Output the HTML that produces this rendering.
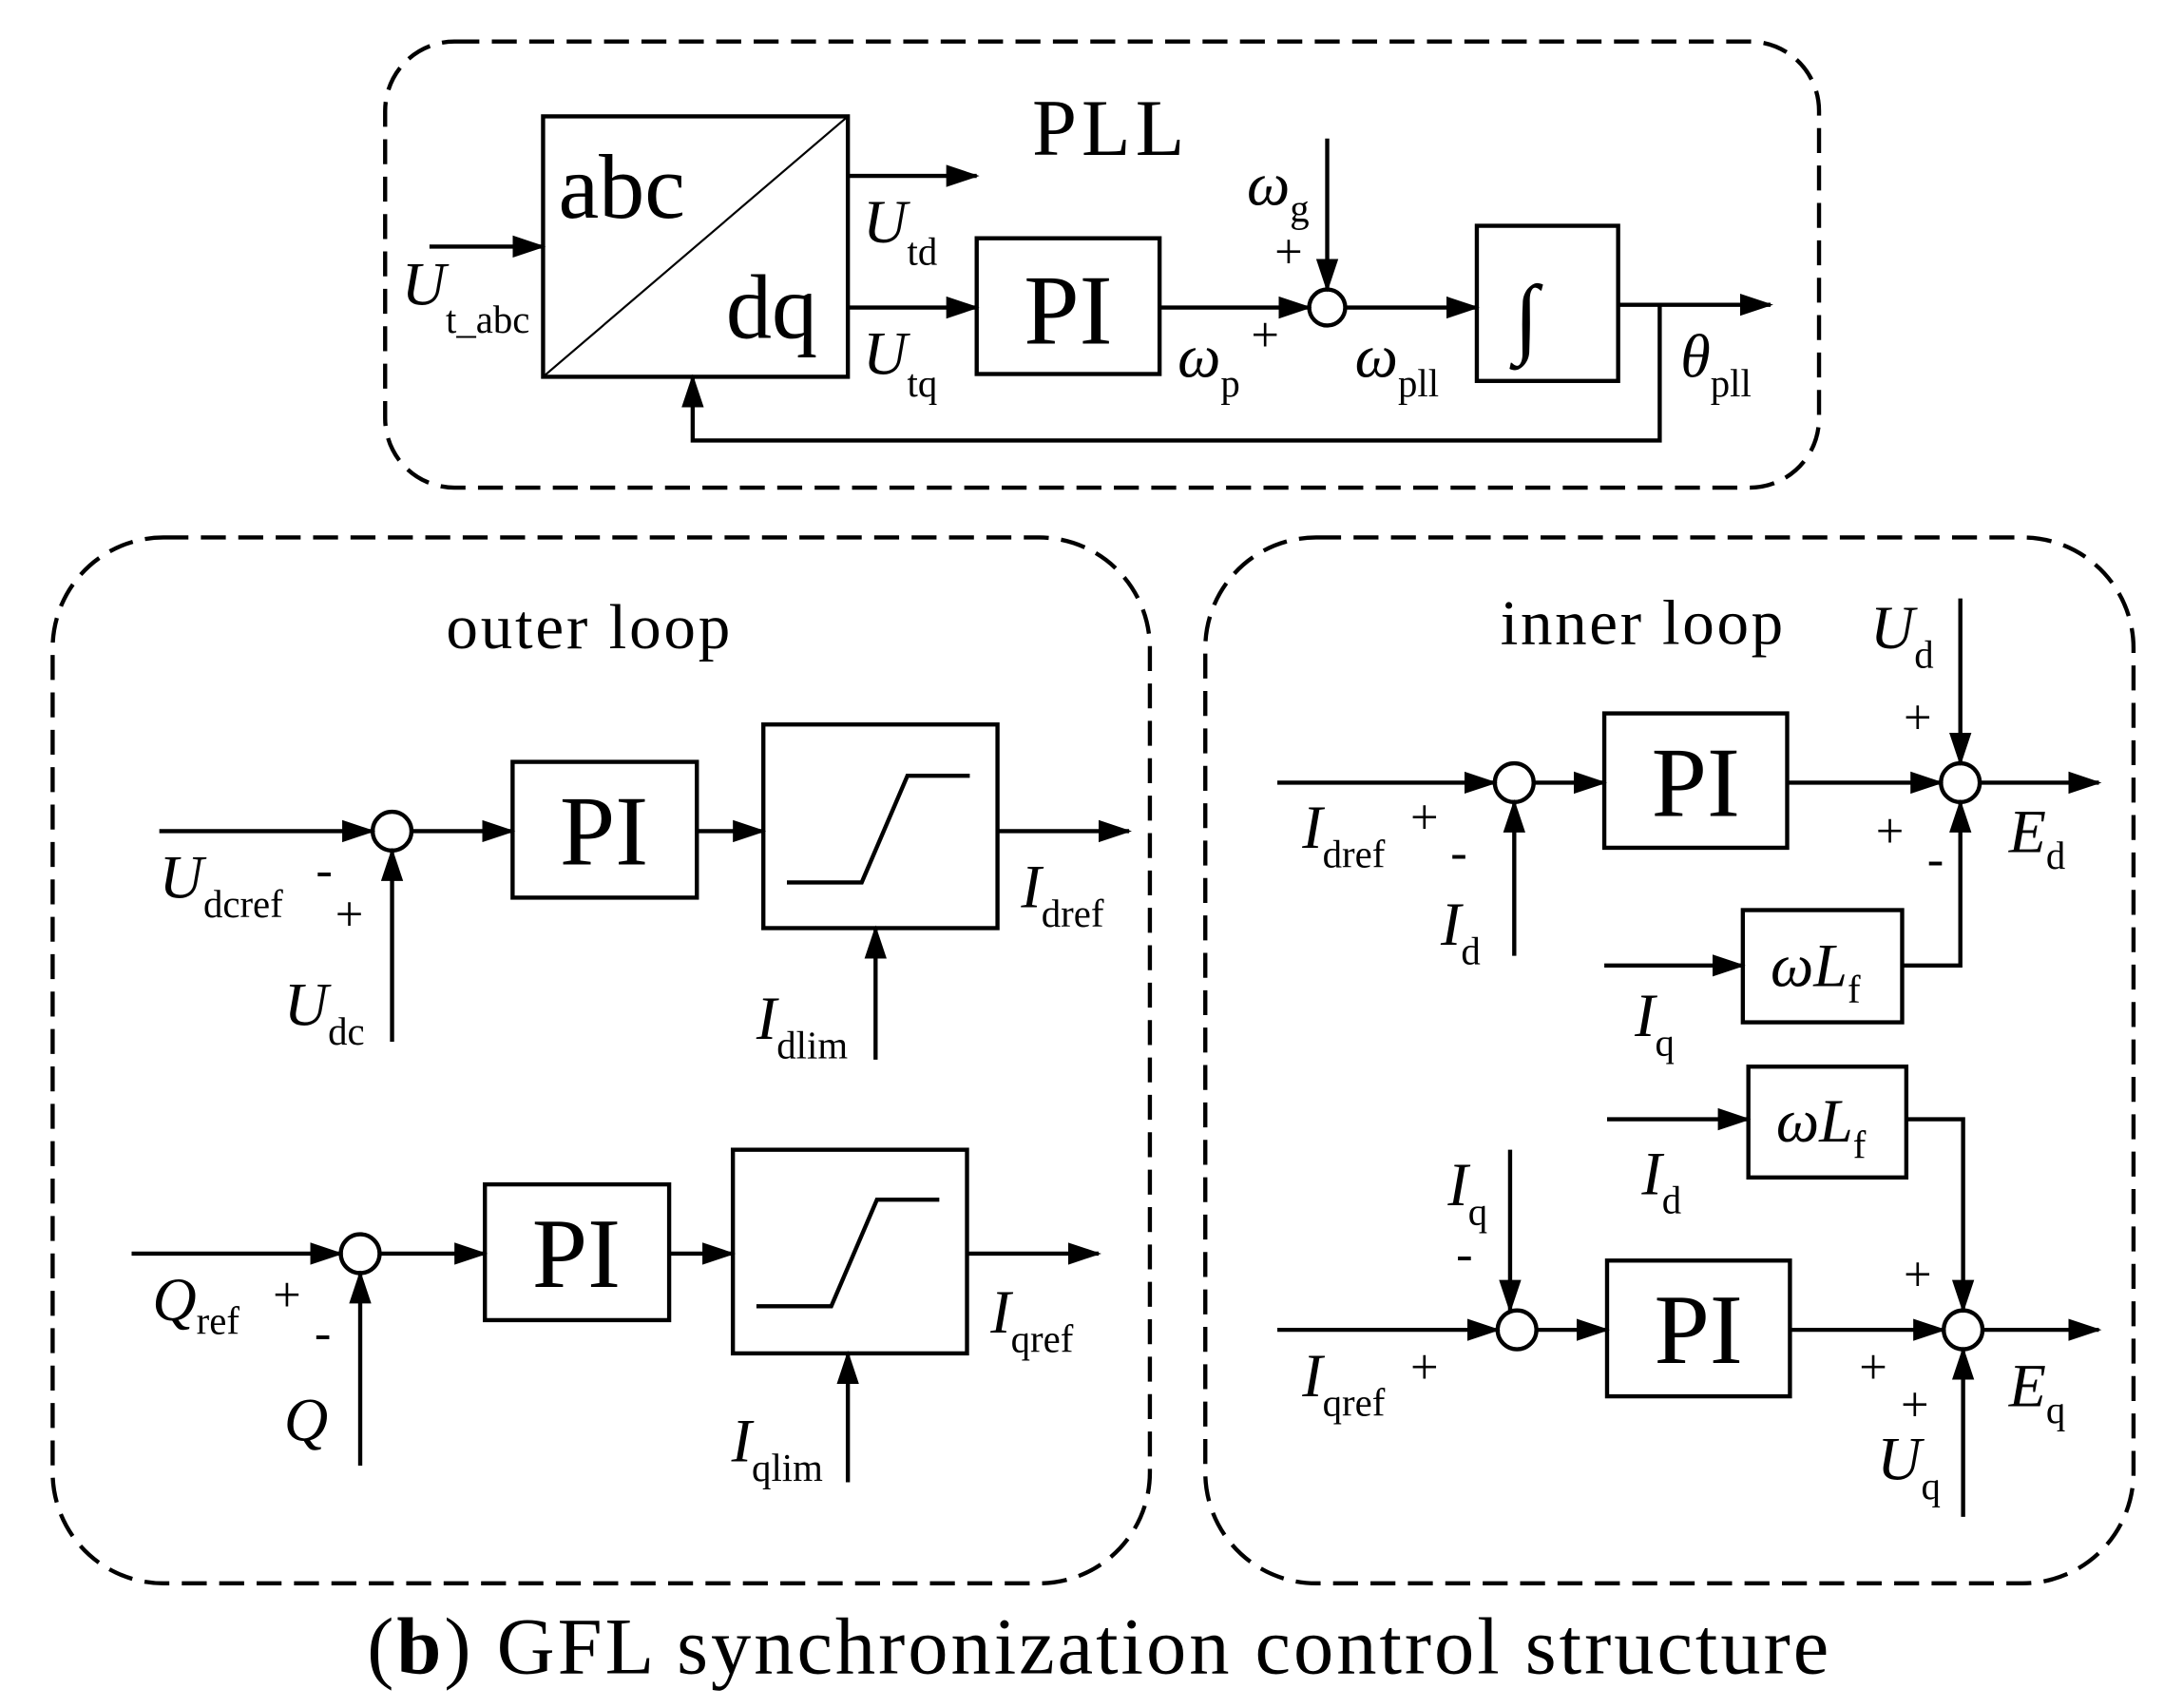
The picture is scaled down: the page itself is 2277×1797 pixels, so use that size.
<!DOCTYPE html>
<html><head><meta charset="utf-8"><style>
html,body{margin:0;padding:0;background:#fff;}
svg{display:block;}
text{font-family:"Liberation Serif",serif;fill:#000;}
.v{font-style:italic;font-size:44px;}
.s{font-style:normal;font-size:28px;}
.pm{font-size:36px;}
.pi{font-size:72px;text-anchor:middle;}
</style></head><body>
<svg width="2277" height="1797" viewBox="0 0 1562 1233" preserveAspectRatio="none" xmlns="http://www.w3.org/2000/svg">
<defs>
<marker id="a" markerUnits="userSpaceOnUse" markerWidth="24" markerHeight="18" refX="22" refY="9" orient="auto"><path d="M0,1 L24,9 L0,17 Z" fill="#000"/></marker>
</defs>
<g fill="none" stroke="#000" stroke-width="3" stroke-dasharray="18,9">
<rect x="278" y="30" width="1035" height="322" rx="50"/>
<rect x="38" y="388" width="792" height="755" rx="80"/>
<rect x="870" y="388" width="670" height="755" rx="80"/>
</g>
<g fill="none" stroke="#000" stroke-width="3">
<rect x="392" y="84" width="220" height="188"/>
<line x1="392" y1="272" x2="612" y2="84" stroke-width="1.5"/>
<line x1="310" y1="178" x2="392" y2="178" marker-end="url(#a)"/>
<line x1="612" y1="127" x2="705" y2="127" marker-end="url(#a)"/>
<line x1="612" y1="222" x2="705" y2="222" marker-end="url(#a)"/>
<rect x="705" y="172" width="132" height="98"/>
<line x1="837" y1="222" x2="945" y2="222" marker-end="url(#a)"/>
<circle cx="958" cy="222" r="13"/>
<line x1="958" y1="100" x2="958" y2="209" marker-end="url(#a)"/>
<line x1="971" y1="222" x2="1066" y2="222" marker-end="url(#a)"/>
<rect x="1066" y="163" width="102" height="112"/>
<line x1="1168" y1="220" x2="1278" y2="220" marker-end="url(#a)"/>
<polyline points="1198,220 1198,318 500,318 500,272" marker-end="url(#a)"/>
<line x1="115" y1="600" x2="269" y2="600" marker-end="url(#a)"/>
<circle cx="283" cy="600" r="14"/>
<line x1="283" y1="752" x2="283" y2="614" marker-end="url(#a)"/>
<line x1="297" y1="600" x2="370" y2="600" marker-end="url(#a)"/>
<rect x="370" y="550" width="133" height="98"/>
<line x1="503" y1="600" x2="551" y2="600" marker-end="url(#a)"/>
<rect x="551" y="523" width="169" height="147"/>
<polyline points="568,637 622,637 655,560 700,560"/>
<line x1="720" y1="600" x2="815" y2="600" marker-end="url(#a)"/>
<line x1="632" y1="765" x2="632" y2="670" marker-end="url(#a)"/>
<line x1="95" y1="905" x2="246" y2="905" marker-end="url(#a)"/>
<circle cx="260" cy="905" r="14"/>
<line x1="260" y1="1058" x2="260" y2="919" marker-end="url(#a)"/>
<line x1="274" y1="905" x2="350" y2="905" marker-end="url(#a)"/>
<rect x="350" y="855" width="133" height="98"/>
<line x1="483" y1="905" x2="529" y2="905" marker-end="url(#a)"/>
<rect x="529" y="830" width="169" height="147"/>
<polyline points="546,943 600,943 633,866 678,866"/>
<line x1="698" y1="905" x2="793" y2="905" marker-end="url(#a)"/>
<line x1="612" y1="1070" x2="612" y2="977" marker-end="url(#a)"/>
<line x1="922" y1="565" x2="1079" y2="565" marker-end="url(#a)"/>
<circle cx="1093" cy="565" r="14"/>
<line x1="1093" y1="690" x2="1093" y2="579" marker-end="url(#a)"/>
<line x1="1107" y1="565" x2="1158" y2="565" marker-end="url(#a)"/>
<rect x="1158" y="515" width="132" height="97"/>
<line x1="1290" y1="565" x2="1401" y2="565" marker-end="url(#a)"/>
<circle cx="1415" cy="565" r="14"/>
<line x1="1415" y1="432" x2="1415" y2="551" marker-end="url(#a)"/>
<line x1="1429" y1="565" x2="1515" y2="565" marker-end="url(#a)"/>
<line x1="1158" y1="697" x2="1258" y2="697" marker-end="url(#a)"/>
<rect x="1258" y="657" width="115" height="81"/>
<polyline points="1373,697 1415,697 1415,579" marker-end="url(#a)"/>
<line x1="1160" y1="808" x2="1262" y2="808" marker-end="url(#a)"/>
<rect x="1262" y="770" width="114" height="80"/>
<polyline points="1376,808 1417,808 1417,946" marker-end="url(#a)"/>
<line x1="922" y1="960" x2="1081" y2="960" marker-end="url(#a)"/>
<circle cx="1095" cy="960" r="14"/>
<line x1="1090" y1="830" x2="1090" y2="946" marker-end="url(#a)"/>
<line x1="1109" y1="960" x2="1160" y2="960" marker-end="url(#a)"/>
<rect x="1160" y="910" width="132" height="98"/>
<line x1="1292" y1="960" x2="1403" y2="960" marker-end="url(#a)"/>
<circle cx="1417" cy="960" r="14"/>
<line x1="1417" y1="1095" x2="1417" y2="974" marker-end="url(#a)"/>
<line x1="1431" y1="960" x2="1515" y2="960" marker-end="url(#a)"/>
</g>
<text x="745" y="112" font-size="58" textLength="110">PLL</text>
<text x="403" y="157" font-size="66">abc</text>
<text x="524" y="244" font-size="66">dq</text>
<text x="771" y="248" class="pi">PI</text>
<text x="1093" y="250" font-size="64" font-style="italic">∫</text>
<text x="290" y="220" class="v">U<tspan class="s" dy="20">t_abc</tspan></text>
<text x="623" y="175" class="v">U<tspan class="s" dy="16">td</tspan></text>
<text x="623" y="270" class="v">U<tspan class="s" dy="16">tq</tspan></text>
<text x="850" y="272" class="v">ω<tspan class="s" dy="14">p</tspan></text>
<text x="903" y="254" class="pm">+</text>
<text x="900" y="148" class="v">ω<tspan class="s" dy="12">g</tspan></text>
<text x="920" y="194" class="pm">+</text>
<text x="978" y="272" class="v">ω<tspan class="s" dy="14">pll</tspan></text>
<text x="1213" y="272" class="v">θ<tspan class="s" dy="14">pll</tspan></text>

<text x="322" y="468" font-size="46" textLength="205">outer loop</text>
<text x="436" y="624" class="pi">PI</text>
<text x="416" y="929" class="pi">PI</text>
<text x="115" y="648" class="v">U<tspan class="s" dy="14">dcref</tspan></text>
<text x="228" y="640" class="pm">-</text>
<text x="242" y="672" class="pm">+</text>
<text x="205" y="740" class="v">U<tspan class="s" dy="14">dc</tspan></text>
<text x="737" y="655" class="v">I<tspan class="s" dy="14">dref</tspan></text>
<text x="546" y="750" class="v">I<tspan class="s" dy="14">dlim</tspan></text>
<text x="110" y="953" class="v">Q<tspan class="s" dy="10">ref</tspan></text>
<text x="197" y="947" class="pm">+</text>
<text x="227" y="974" class="pm">-</text>
<text x="205" y="1040" class="v">Q</text>
<text x="715" y="962" class="v">I<tspan class="s" dy="14">qref</tspan></text>
<text x="528" y="1055" class="v">I<tspan class="s" dy="14">qlim</tspan></text>

<text x="1083" y="465" font-size="46" textLength="204">inner loop</text>
<text x="1224" y="589" class="pi">PI</text>
<text x="1226" y="984" class="pi">PI</text>
<text x="940" y="612" class="v">I<tspan class="s" dy="14">dref</tspan></text>
<text x="1018" y="602" class="pm">+</text>
<text x="1047" y="627" class="pm">-</text>
<text x="1040" y="682" class="v">I<tspan class="s" dy="14">d</tspan></text>
<text x="1350" y="468" class="v">U<tspan class="s" dy="14">d</tspan></text>
<text x="1374" y="530" class="pm">+</text>
<text x="1354" y="612" class="pm">+</text>
<text x="1391" y="632" class="pm">-</text>
<text x="1450" y="615" class="v">E<tspan class="s" dy="12">d</tspan></text>
<text x="1278" y="712" class="v">ωL<tspan class="s" dy="12">f</tspan></text>
<text x="1180" y="748" class="v">I<tspan class="s" dy="14">q</tspan></text>
<text x="1282" y="824" class="v">ωL<tspan class="s" dy="12">f</tspan></text>
<text x="1185" y="862" class="v">I<tspan class="s" dy="14">d</tspan></text>
<text x="1045" y="870" class="v">I<tspan class="s" dy="14">q</tspan></text>
<text x="1051" y="917" class="pm">-</text>
<text x="940" y="1008" class="v">I<tspan class="s" dy="14">qref</tspan></text>
<text x="1018" y="999" class="pm">+</text>
<text x="1374" y="932" class="pm">+</text>
<text x="1342" y="999" class="pm">+</text>
<text x="1372" y="1026" class="pm">+</text>
<text x="1450" y="1015" class="v">E<tspan class="s" dy="12" font-style="italic">q</tspan></text>
<text x="1355" y="1068" class="v">U<tspan class="s" dy="14">q</tspan></text>

<text x="265" y="1208" font-size="58" textLength="1055">(<tspan font-weight="bold">b</tspan>) GFL synchronization control structure</text>
</svg>
</body></html>
